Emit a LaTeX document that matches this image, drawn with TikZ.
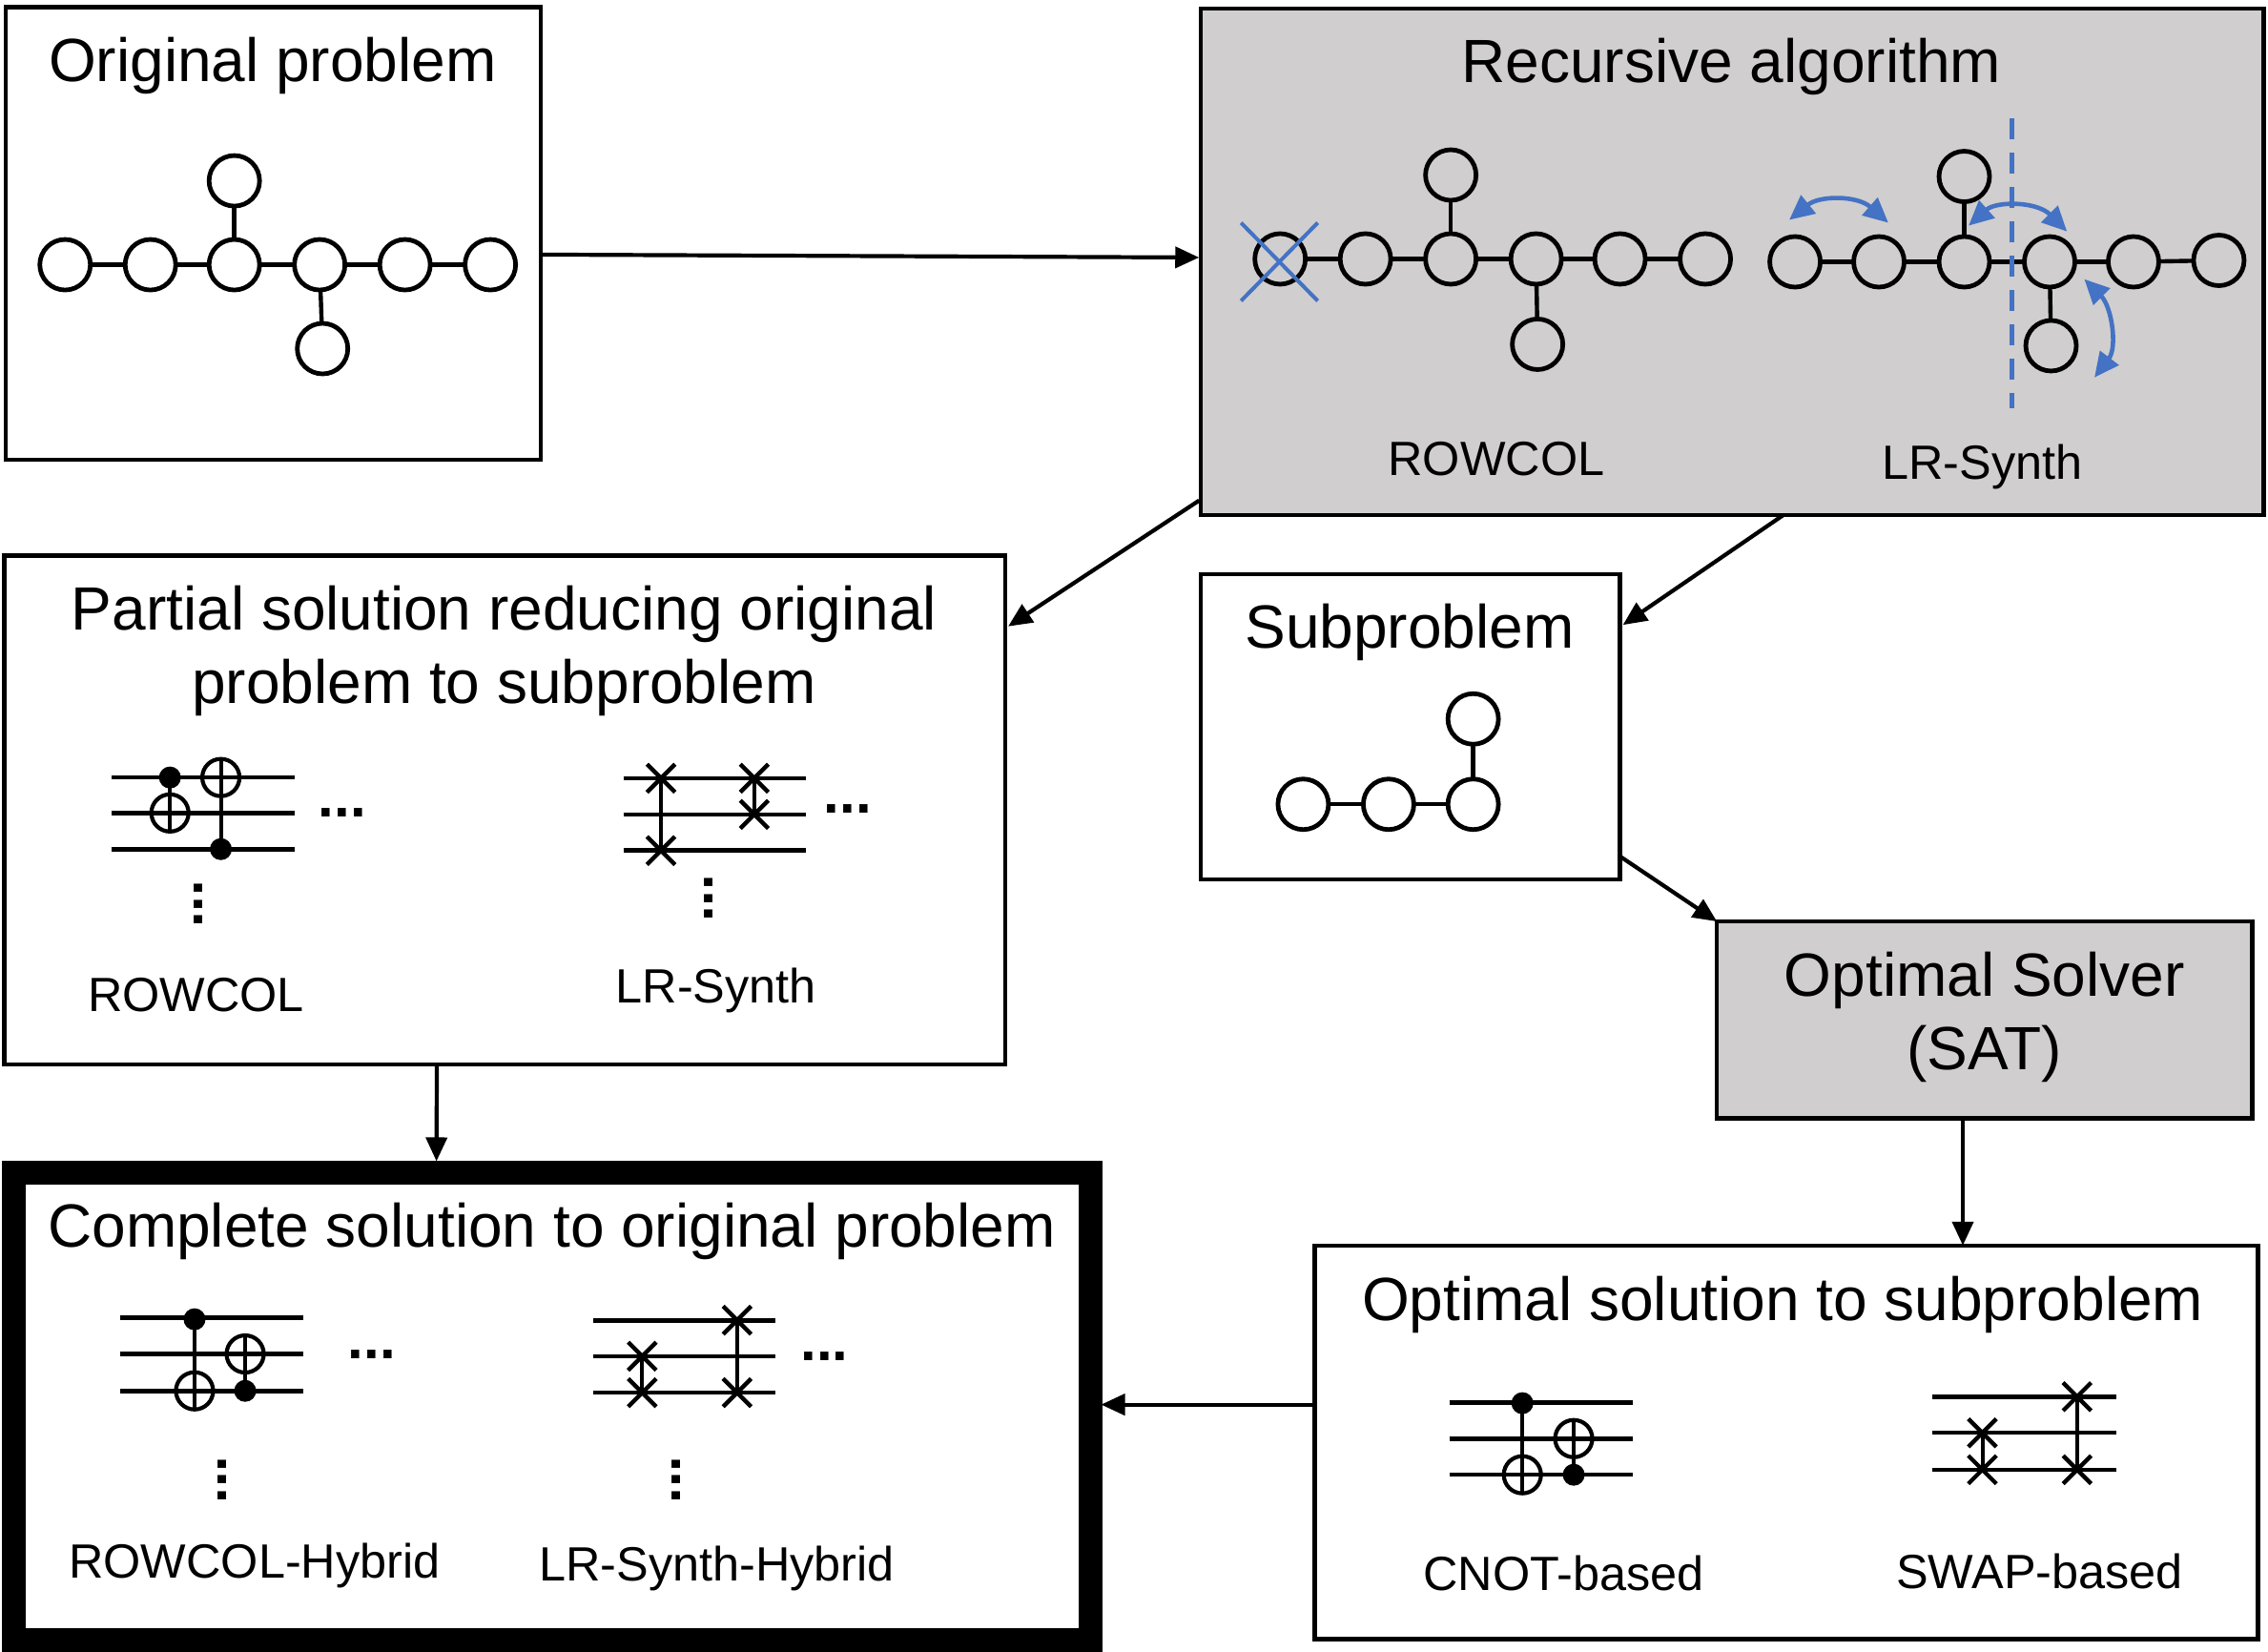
\documentclass[tikz,border=0pt]{standalone}
\usepackage{fontspec}
\setmainfont{Liberation Sans}
\usetikzlibrary{arrows.meta,calc,shapes.misc}
\newlength{\un}\setlength{\un}{0.75829pt}
\definecolor{panelgray}{HTML}{D0CECE}
\definecolor{accentblue}{HTML}{4472C4}
\tikzset{
  box/.style={draw=black,line width=2.2pt,rectangle,inner sep=0pt,outer sep=0pt},
  graybox/.style={box,fill=panelgray},
  heavybox/.style={draw=black,line width=12.5pt,rectangle,inner sep=0pt,outer sep=6.25pt},
  ttl/.style={font=\fontsize{32}{38}\selectfont,anchor=base,inner sep=0pt},
  lab/.style={font=\fontsize{25.2}{30}\selectfont,anchor=base,inner sep=0pt},
  qb/.style={circle,draw=black,line width=2.4pt,minimum size=26.5pt,inner sep=0pt,outer sep=0pt},
  edge/.style={draw=black,line width=2.2pt},
  arr/.style={draw=black,line width=2.1pt,-{Triangle[length=12.5pt,width=11pt]},shorten <=0pt},
  wirel/.style={draw=black,line width=2.3pt},
  cnx/.style={draw=black,line width=2pt},
  ctrlg/.style={circle,fill=black,draw=none,minimum size=11.5pt,inner sep=0pt},
  targ/.style={circle,draw=black,line width=2.1pt,minimum size=19.5pt,inner sep=0pt,
     path picture={\draw[line width=2pt] (path picture bounding box.north)--(path picture bounding box.south)
       (path picture bounding box.west)--(path picture bounding box.east);}},
  swp/.style={cross out,draw=black,line width=2.2pt,minimum size=12.5pt,inner sep=0pt},
  dotsh/.style={font=\fontsize{30}{36}\selectfont\bfseries,anchor=base,inner sep=0pt},
  dotsv/.style={dotsh,rotate=90},
  bluearc/.style={draw=accentblue,line width=2.3pt,{Triangle[length=13pt,width=12pt]}-{Triangle[length=13pt,width=12pt]}},
  bluex/.style={draw=accentblue,line width=2pt},
  bluedash/.style={draw=accentblue,line width=2.3pt,dash pattern=on 11pt off 7pt},
}
\newcommand{\bx}[6]{\path ({(#3+#5)/2},{(#4+#6)/2}) node[#2,minimum width={(#5-#3)*\un},minimum height={(#6-#4)*\un}] (#1) {};}
\newcommand{\qwires}[6]{%
  \foreach \k/\yy in {a/#4,b/#5,c/#6}{%
    \coordinate (#1\k s) at (#2,\yy);
    \coordinate (#1\k e) at (#3,\yy);
    \draw[wirel] (#1\k s) -- (#1\k e);
  }}
\begin{document}
\begin{tikzpicture}[x=0.75829pt,y=-0.75829pt]
\useasboundingbox (0,0) rectangle (1568,1142);

% Boxes
\bx{orig}{box}{4}{5}{374}{318}
\bx{rec}{graybox}{830}{6}{1565}{356}
\bx{part}{box}{3}{384}{695}{736}
\bx{sub}{box}{830}{397}{1120}{608}
\bx{solver}{graybox}{1187}{637}{1557}{773}
\bx{optsol}{box}{909}{861}{1561}{1133}
\bx{full}{heavybox}{9.5}{811}{754}{1134}

% Titles
\node[ttl] (t1) at (188.5,56.5) {Original problem};
\node[ttl] (t2) at (1197,57.3) {Recursive algorithm};
\node[ttl] (t3) at (348.5,435.2) {Partial solution reducing original};
\node[ttl] (t3b) at (348.5,486.2) {problem to subproblem};
\node[ttl] (t4) at (974.5,448.3) {Subproblem};
\node[ttl] (t5) at (1372,688.5) {Optimal Solver};
\node[ttl] (t5b) at (1372,739.5) {(SAT)};
\node[ttl] (t6) at (1232.5,913) {Optimal solution to subproblem};
\node[ttl] (t7) at (381.5,862.2) {Complete solution to original problem};

% Sub labels
\node[lab] (l1) at (1034.5,329) {ROWCOL};
\node[lab] (l2) at (1370.5,331) {LR-Synth};
\node[lab] (l3) at (135.5,699) {ROWCOL};
\node[lab] (l4) at (495,693) {LR-Synth};
\node[lab] (l5) at (176,1091) {ROWCOL-Hybrid};
\node[lab] (l6) at (495.5,1093) {LR-Synth-Hybrid};
\node[lab] (l7) at (1081,1099.5) {CNOT-based};
\node[lab] (l8) at (1410,1098.5) {SWAP-based};

% Original graph
\foreach \n/\x/\y in {a/45/183,b/104/183,c/162/183,d/221/183,e/280/183,f/339/183,g/162/125,h/223/241}
  \node[qb] (o\n) at (\x,\y) {};
\foreach \p/\q in {a/b,b/c,c/d,d/e,e/f,c/g,d/h}
  \draw[edge] (o\p) -- (o\q);

% ROWCOL graph
\foreach \n/\x/\y in {a/885/179,b/944/179,c/1003/179,d/1062/179,e/1120/179,f/1179/179,g/1003/121,h/1063/238}
  \node[qb] (r\n) at (\x,\y) {};
\foreach \p/\q in {a/b,b/c,c/d,d/e,e/f,c/g,d/h}
  \draw[edge] (r\p) -- (r\q);

% LR-Synth graph
\foreach \n/\x/\y in {a/1241/181,b/1299/181,c/1358/181,d/1417/181,e/1475/181,f/1534/180,g/1358/122,h/1418/239}
  \node[qb] (s\n) at (\x,\y) {};
\foreach \p/\q in {a/b,b/c,c/d,d/e,e/f,c/g,d/h}
  \draw[edge] (s\p) -- (s\q);

% Subproblem graph
\foreach \n/\x/\y in {a/901/556,b/960/556,c/1018.5/556,d/1018.5/497}
  \node[qb] (p\n) at (\x,\y) {};
\foreach \p/\q in {a/b,b/c,c/d}
  \draw[edge] (p\p) -- (p\q);

% Blue marks
\coordinate (xa) at (858,154); \coordinate (xb) at (911,208);
\coordinate (xc) at (858,208); \coordinate (xd) at (911,154);
\draw[bluex] (xa) -- (xb);
\draw[bluex] (xc) -- (xd);
\coordinate (da) at (1391,82); \coordinate (db) at (1391,282);
\draw[bluedash] (da) -- (db);
\coordinate (a1) at (1237,152); \coordinate (a2) at (1305.5,154);
\draw[bluearc] (a1) .. controls (1258,135) and (1284,135) .. (a2);
\coordinate (a3) at (1361,156); \coordinate (a4) at (1429,160);
\draw[bluearc] (a3) .. controls (1380,139) and (1408,139) .. (a4);
\coordinate (a5) at (1441,193); \coordinate (a6) at (1448,261);
\draw[bluearc] (a5) .. controls (1460,212) and (1464,240) .. (a6);

% Partial: CNOT circuit
\qwires{pa}{77}{204}{537.5}{562}{587}
\node[ctrlg] (pa1) at (117.5,537.5) {};
\node[targ] (pa2) at (117.5,562) {};
\node[targ] (pa3) at (152.7,537.5) {};
\node[ctrlg] (pa4) at (152.7,587) {};
\draw[cnx] (pa1.center) -- (pa2.center);
\draw[cnx] (pa3.center) -- (pa4.center);
\node[dotsh] (pa5) at (236.5,565) {...};
\node[dotsv] (pa6) at (140,625) {...};

% Partial: SWAP circuit
\qwires{pb}{431}{557}{538}{563}{588}
\node[swp] (pb1) at (457,538) {};
\node[swp] (pb2) at (457,588) {};
\node[swp] (pb3) at (521.5,538) {};
\node[swp] (pb4) at (521.5,563) {};
\draw[cnx] (pb1.center) -- (pb2.center);
\draw[cnx] (pb3.center) -- (pb4.center);
\node[dotsh] (pb5) at (586,562) {...};
\node[dotsv] (pb6) at (493,621) {...};

% Complete: CNOT circuit
\qwires{ca}{83}{210}{911}{936}{961.5}
\node[ctrlg] (ca1) at (134.5,912) {};
\node[targ] (ca2) at (134.5,961.5) {};
\node[targ] (ca3) at (169.5,936) {};
\node[ctrlg] (ca4) at (169.5,961.5) {};
\draw[cnx] (ca1.center) -- (ca2.center);
\draw[cnx] (ca3.center) -- (ca4.center);
\node[dotsh] (ca5) at (257,939) {...};
\node[dotsv] (ca6) at (156.4,1023) {...};

% Complete: SWAP circuit
\qwires{cb}{410}{536}{912.7}{937.6}{962.7}
\node[swp] (cb1) at (444,937.6) {};
\node[swp] (cb2) at (444,962.7) {};
\node[swp] (cb3) at (509.6,912.7) {};
\node[swp] (cb4) at (509.6,962.7) {};
\draw[cnx] (cb1.center) -- (cb2.center);
\draw[cnx] (cb3.center) -- (cb4.center);
\node[dotsh] (cb5) at (570,940.6) {...};
\node[dotsv] (cb6) at (470.6,1023) {...};

% Optimal solution: CNOT circuit
\qwires{oa}{1002}{1129}{969.5}{994.5}{1019.5}
\node[ctrlg] (oa1) at (1052.5,970) {};
\node[targ] (oa2) at (1052.5,1019.5) {};
\node[targ] (oa3) at (1088,994.5) {};
\node[ctrlg] (oa4) at (1088,1019.5) {};
\draw[cnx] (oa1.center) -- (oa2.center);
\draw[cnx] (oa3.center) -- (oa4.center);

% Optimal solution: SWAP circuit
\qwires{ob}{1336}{1463}{965.5}{990.5}{1016}
\node[swp] (ob1) at (1370.5,990.5) {};
\node[swp] (ob2) at (1370.5,1016) {};
\node[swp] (ob3) at (1436,965.5) {};
\node[swp] (ob4) at (1436,1016) {};
\draw[cnx] (ob1.center) -- (ob2.center);
\draw[cnx] (ob3.center) -- (ob4.center);

% Connectors
\draw[arr] ($(orig.east)+(0,14.5)$) -- ($(rec.west)+(-1,-3)$);
\draw[arr] ($(rec.south west)+(-1,-10)$) -- ($(part.north east)+(2,49)$);
\draw[arr] ($(rec.south)+(35.5,0)$) -- ($(sub.north east)+(2,35)$);
\draw[arr] ($(sub.south east)+(0,-16)$) -- (solver.north west);
\draw[arr] ($(solver.south)+(-15,0)$) -- ($(optsol.north)+(122,0)$);
\draw[arr] ($(part.south)+(-47,0)$) -- ($(full.north)+(-80,0)$);
\draw[arr] ($(optsol.west)+(0,-26)$) -- ($(full.east)+(-1,-1.5)$);
\end{tikzpicture}
\end{document}
